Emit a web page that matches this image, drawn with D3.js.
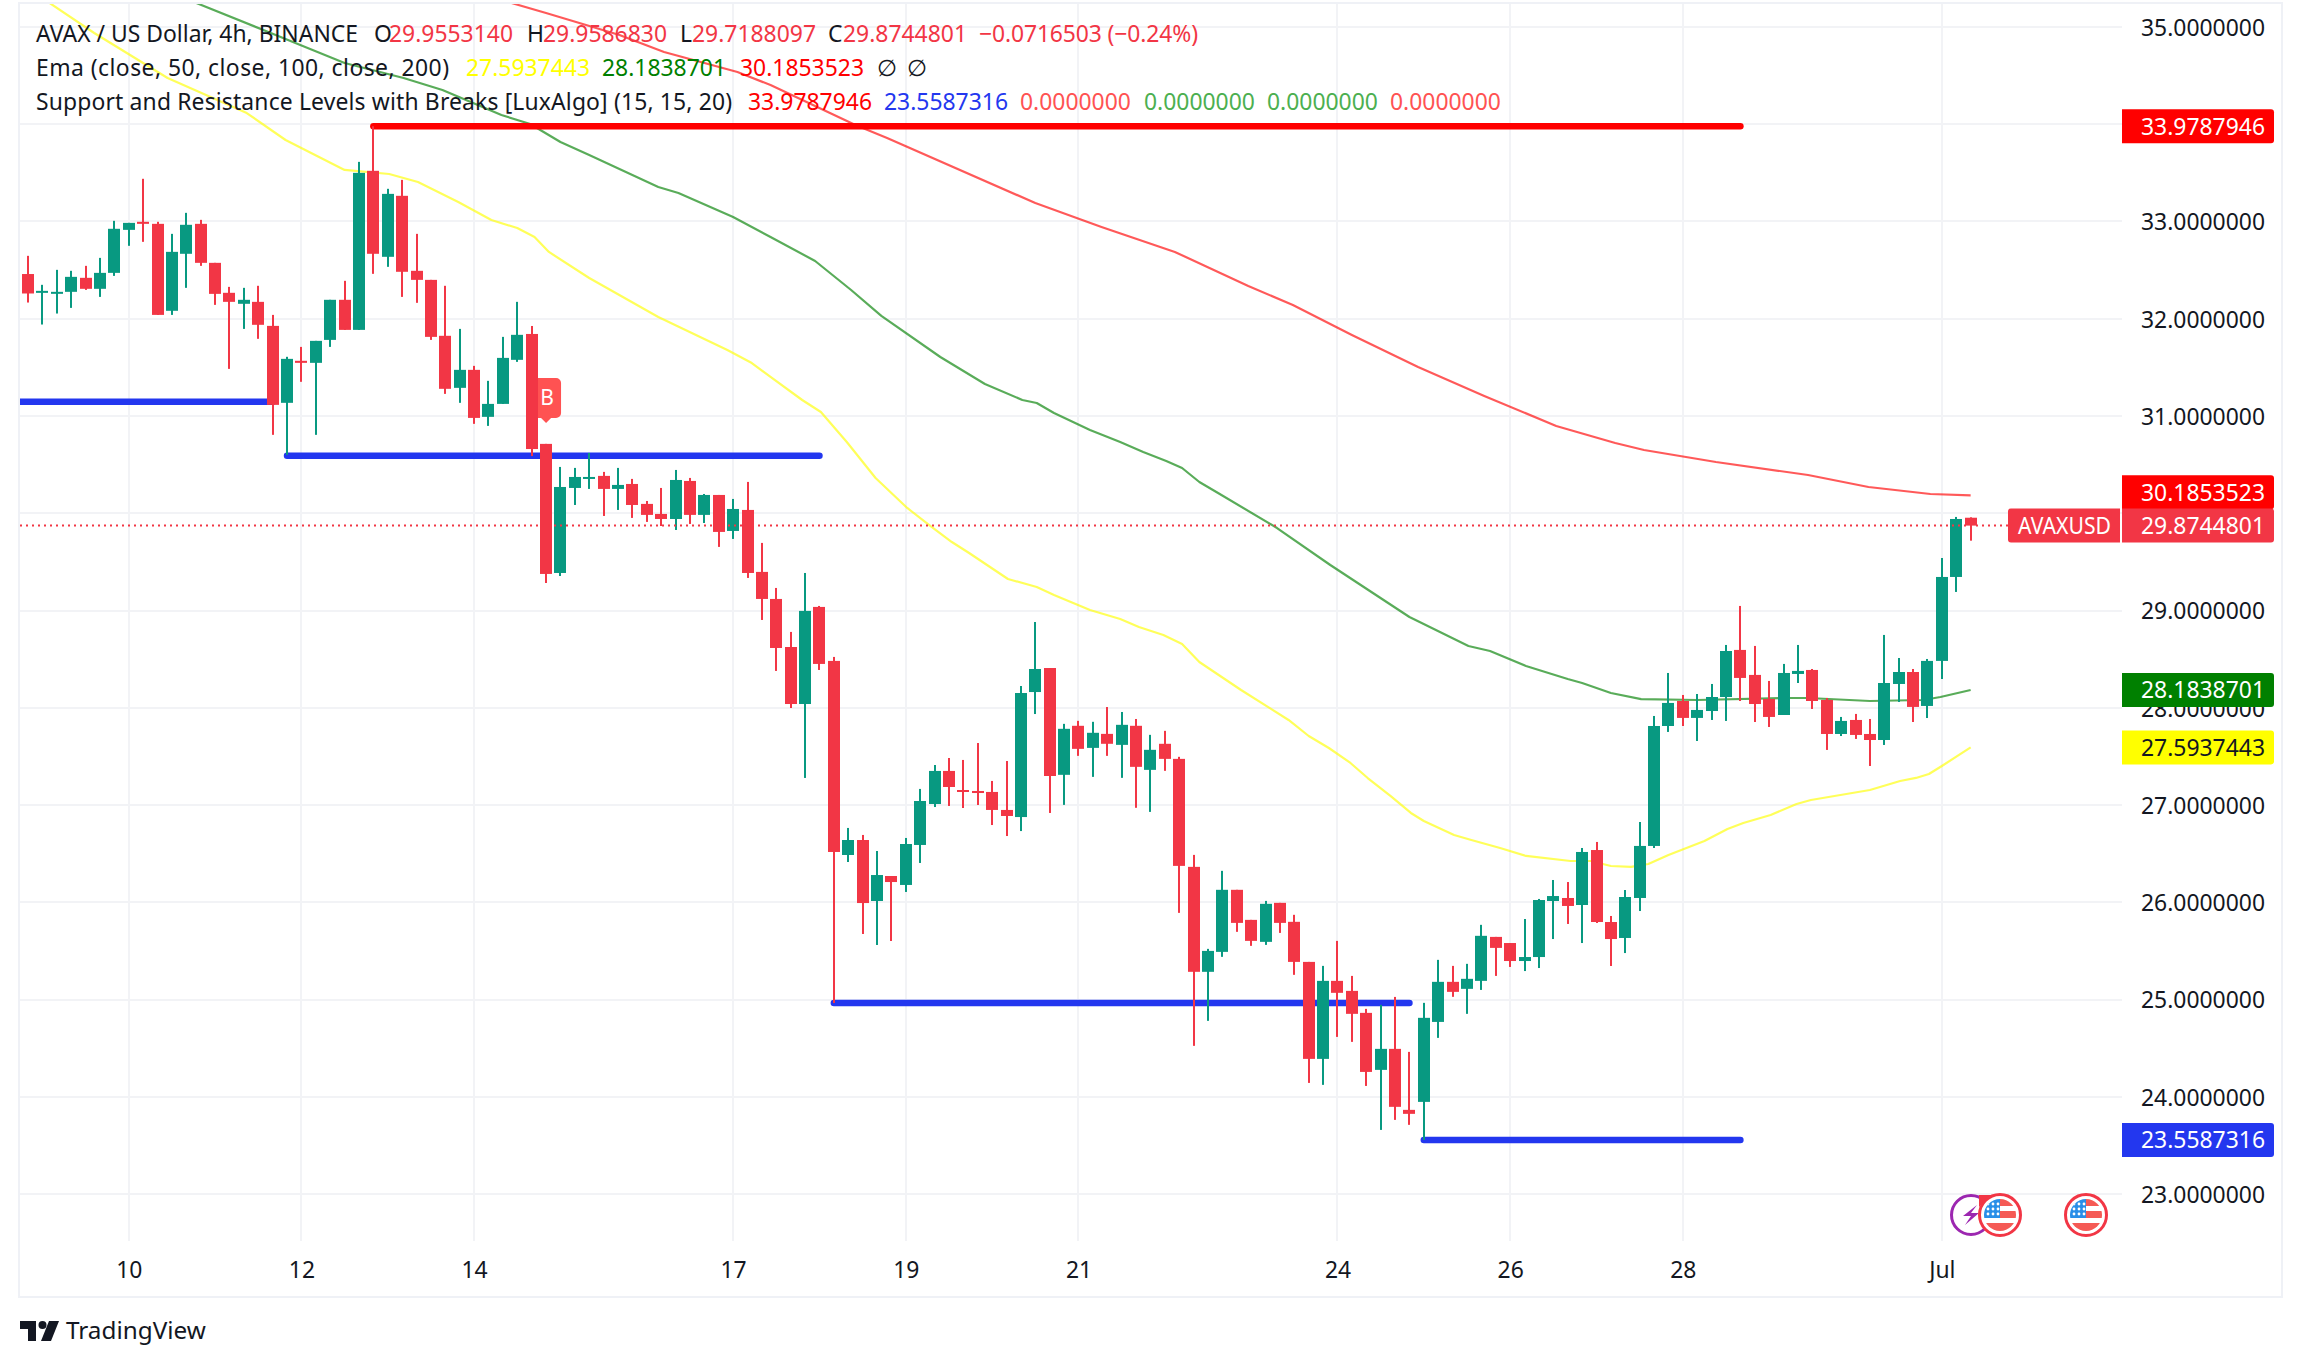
<!DOCTYPE html>
<html>
<head>
<meta charset="utf-8">
<title>AVAX / US Dollar</title>
<script src="https://cdn.jsdelivr.net/npm/d3@7"></script>
<style>
	html, body { margin: 0; padding: 0; background: #ffffff; }
	svg { display: block; }
	text { font-family: "Noto Sans", sans-serif; }
</style>
</head>
<body>
<div id="viz"></div>
<script>
// 4h candles, oldest first
var opens = [32.46,32.267,32.26,32.277,32.421,32.308,32.472,32.914,32.997,32.976,
	32.082,32.668,32.976,32.575,32.267,32.154,32.174,31.927,31.136,31.568,
	31.547,31.783,32.195,31.886,33.521,32.637,33.264,32.493,32.4,31.825,
	31.29,31.475,30.992,31.125,31.578,31.844,30.714,29.387,30.261,30.354,
	30.385,30.251,30.302,30.097,29.994,29.942,30.333,29.984,30.189,29.819,
	30.035,29.398,29.12,28.626,28.04,29.038,28.483,26.488,26.642,26.015,
	26.272,26.18,26.591,27.012,27.352,27.156,27.146,27.136,26.951,26.878,
	28.163,28.41,27.312,27.816,27.589,27.733,27.62,27.816,27.363,27.631,
	27.476,26.366,25.287,25.492,26.13,25.821,25.595,25.996,25.801,25.389,
	24.392,25.194,25.091,24.865,24.279,24.495,23.868,23.95,24.772,25.184,
	25.112,25.194,25.646,25.583,25.398,25.439,26.015,26.046,25.974,26.539,
	25.799,25.635,26.046,26.581,27.814,28.071,27.897,27.968,28.112,28.596,
	28.339,28.092,27.927,28.349,28.39,28.082,27.732,27.876,27.732,27.67,
	28.246,28.369,28.02,28.483,29.346,29.955];
var highs = [32.647,32.349,32.503,32.493,32.544,32.626,33.007,32.986,33.439,32.997,
	32.873,33.089,33.017,32.575,32.328,32.318,32.339,32.04,31.609,31.711,
	31.773,32.195,32.39,33.613,33.979,33.336,33.428,32.873,32.4,32.339,
	31.896,31.516,31.362,31.814,32.174,31.926,30.714,30.477,30.467,30.621,
	30.426,30.467,30.354,30.127,30.261,30.446,30.364,30.199,30.189,30.148,
	30.323,29.696,29.233,28.781,29.387,29.048,28.524,26.766,26.694,26.529,
	26.272,26.663,27.167,27.413,27.485,27.465,27.639,27.249,27.454,28.225,
	28.883,28.41,27.836,27.867,27.857,28.009,27.958,27.886,27.723,27.764,
	27.497,26.489,25.523,26.325,26.13,25.821,26.016,25.996,25.873,25.389,
	25.348,25.605,25.245,24.906,24.947,25.029,24.464,24.968,25.41,25.348,
	25.369,25.77,25.646,25.583,25.83,26.036,26.231,26.21,26.56,26.622,
	25.861,26.128,26.827,27.917,28.359,28.133,28.143,28.246,28.647,29.048,
	28.637,28.277,28.452,28.647,28.4,28.102,27.907,27.938,27.886,28.75,
	28.513,28.4,28.503,29.541,29.963,29.959];
var lows = [32.167,31.941,32.054,32.112,32.297,32.225,32.441,32.75,32.791,32.04,
	32.04,32.318,32.544,32.143,31.485,31.896,31.794,30.807,30.601,31.352,
	30.807,31.711,31.886,31.886,32.462,32.534,32.225,32.164,31.783,31.228,
	31.136,30.92,30.899,31.125,31.557,30.589,29.284,29.356,30.086,30.251,
	29.973,30.035,29.953,29.912,29.87,29.829,29.891,29.901,29.655,29.737,
	29.336,28.904,28.38,27.999,27.28,28.39,24.966,26.416,25.676,25.563,
	25.604,26.108,26.406,26.981,26.992,26.971,27.002,26.796,26.683,26.734,
	27.937,26.92,27.003,27.507,27.291,27.507,27.281,26.973,26.931,27.353,
	25.893,24.526,24.783,25.441,25.698,25.554,25.564,25.687,25.256,24.145,
	24.125,24.618,24.567,24.114,23.662,23.765,23.714,23.559,24.608,25.03,
	24.855,25.101,25.245,25.337,25.295,25.326,25.624,25.779,25.583,25.789,
	25.347,25.48,25.912,26.56,27.753,27.814,27.66,27.876,27.866,28.071,
	27.855,27.804,27.927,28.256,27.989,27.568,27.711,27.681,27.403,27.619,
	28.061,27.855,27.896,28.297,29.192,29.719];
var closes = [32.26,32.287,32.277,32.431,32.308,32.472,32.925,32.986,32.976,32.04,
	32.688,32.966,32.575,32.256,32.174,32.195,31.938,31.115,31.588,31.547,
	31.773,32.195,31.886,33.5,32.668,33.284,32.483,32.4,31.814,31.28,
	31.475,30.981,31.125,31.598,31.835,30.661,29.377,30.271,30.374,30.374,
	30.251,30.292,30.086,29.984,29.942,30.343,29.984,30.189,29.809,30.045,
	29.387,29.12,28.616,28.04,28.997,28.452,26.519,26.642,25.994,26.282,
	26.21,26.601,27.043,27.352,27.187,27.136,27.125,26.951,26.889,28.153,
	28.4,27.3,27.785,27.579,27.744,27.631,27.826,27.394,27.569,27.476,
	26.376,25.287,25.502,26.13,25.79,25.605,25.986,25.79,25.389,24.392,
	25.194,25.071,24.855,24.258,24.495,23.899,23.827,24.814,25.184,25.081,
	25.215,25.657,25.533,25.398,25.439,26.025,26.066,25.964,26.519,25.799,
	25.624,26.056,26.581,27.814,28.051,27.897,27.979,28.112,28.585,28.308,
	28.04,27.907,28.359,28.38,28.071,27.732,27.866,27.722,27.67,28.256,
	28.369,28.01,28.483,29.346,29.942,29.874];

// moving averages: bar position and value
var ema50Bars = [1.5,4.6,9.7,15.2,17.9,22,25.1,27.1,29.9,32.2,34,35.2,36.2,39,43.8,48.6,50.3,51.6,53.8,55.1,56.9,58.9,61.1,62.7,64.2,65.4,68.1,70.1,71.3,73.8,75.9,77.2,78.9,80.2,81.4,84.3,87.6,89,90.4,91.9,93.1,94.7,96.1,97,99.1,100.3,102.3,104.1,107.2,108.6,110,111.4,112.6,114,116.5,118.1,119.2,121.1,122.9,123.9,128,130.1,131.2,132.1,133,135];
var ema50Values = [35.246,34.938,34.475,34.115,33.838,33.53,33.488,33.406,33.2,33.015,32.933,32.841,32.687,32.419,32.018,31.679,31.545,31.402,31.165,31.042,30.733,30.363,30.055,29.87,29.705,29.592,29.325,29.243,29.161,29.006,28.914,28.832,28.749,28.657,28.472,28.184,27.876,27.711,27.588,27.434,27.279,27.094,26.92,26.838,26.693,26.642,26.56,26.478,26.426,26.426,26.375,26.365,26.395,26.488,26.632,26.755,26.817,26.899,27.012,27.053,27.156,27.249,27.28,27.321,27.403,27.5937];
var ema100Bars = [11.7,16.7,22,26.1,28.8,32.9,34.9,37,39,43.8,45.2,49,50.3,51.6,54.7,57.2,59.3,63.4,66.5,69.1,70.1,71.3,73.8,75.9,77.5,79.1,80.2,81.4,82.7,86.8,90.5,96,100.1,101.6,104.1,107,108,110,112.1,116,122.5,123.7,128,131.7,132.9,135];
var ema100Values = [35.246,34.948,34.629,34.475,34.352,34.095,34.002,33.817,33.684,33.355,33.293,33.046,32.944,32.841,32.594,32.296,32.029,31.607,31.33,31.165,31.134,31.032,30.857,30.733,30.631,30.538,30.466,30.322,30.209,29.849,29.469,28.934,28.636,28.585,28.431,28.297,28.256,28.153,28.091,28.081,28.102,28.102,28.071,28.081,28.112,28.1839];
var ema200Bars = [33.6,36,41.1,44.2,49.3,51.6,57.5,59.7,70,74.6,79.7,84.8,87.9,92,96.6,101.2,106.2,110.3,112.3,117.3,123.7,127.9,132.2,135];
var ema200Values = [35.246,35.143,34.917,34.742,34.537,34.403,33.992,33.858,33.19,32.943,32.687,32.337,32.142,31.833,31.504,31.206,30.898,30.723,30.651,30.528,30.394,30.271,30.199,30.1854];

// support and resistance segments
var levelStarts = [-1,18,56,97,24];
var levelEnds = [17,55,96,119,119];
var levelValues = [31.147,30.593,24.966,23.5587,33.9788];
var levelKinds = ["support","support","support","support","resistance"];

var priceTicks = [23,24,25,26,27,28,29,30,31,32,33,34,35];
// 30 and 34 sit behind the price tags
var priceTickLabels = [23,24,25,26,27,28,29,31,32,33,35];
var timeTickBars = [7,19,31,49,61,73,91,103,115,133];
var timeTickLabels = ["10","12","14","17","19","21","24","26","28","Jul"];

var lastPrice = 29.8744801;
var breakBar = 36;

var WIDTH = 2302;
var HEIGHT = 1367;
var PANE_LEFT = 20;
var PANE_RIGHT = 2122;
var PANE_TOP = 4;
var PANE_BOTTOM = 1241;
var FRAME_RIGHT = 2282;
var FRAME_BOTTOM = 1297;
var BODY_WIDTH = 12;
var FONT_SIZE = 22.9;

var UP = "#089981";
var DOWN = "#f23645";
var INK = "#131722";
var GRID = "#f2f3f6";
var FRAME = "#eff1f6";

var x = d3.scaleLinear().domain([0, 135]).range([28, 28 + 135 * 14.39]);
var y = d3.scaleLinear().domain([23, 35]).range([1194.3, 1194.3 - 12 * 97.28]);

var svg = d3.select("#viz").append("svg")
	.attr("width", WIDTH)
	.attr("height", HEIGHT)
	.attr("viewBox", "0 0 " + WIDTH + " " + HEIGHT);

svg.append("clipPath").attr("id", "pane").append("rect")
	.attr("x", PANE_LEFT)
	.attr("y", PANE_TOP)
	.attr("width", PANE_RIGHT - PANE_LEFT)
	.attr("height", PANE_BOTTOM - PANE_TOP);

// frame
svg.append("rect")
	.attr("x", PANE_LEFT - 1)
	.attr("y", PANE_TOP - 1)
	.attr("width", FRAME_RIGHT - PANE_LEFT + 1)
	.attr("height", FRAME_BOTTOM - PANE_TOP + 1)
	.attr("fill", "none")
	.attr("stroke", FRAME)
	.attr("stroke-width", 2);

// grid
svg.append("g").selectAll("line").data(priceTicks).enter().append("line")
	.attr("x1", PANE_LEFT)
	.attr("x2", PANE_RIGHT)
	.attr("y1", function(d) { return Math.round(y(d)); })
	.attr("y2", function(d) { return Math.round(y(d)); })
	.attr("stroke", GRID)
	.attr("stroke-width", 2);

svg.append("g").selectAll("line").data(timeTickBars).enter().append("line")
	.attr("x1", function(d) { return Math.round(x(d)); })
	.attr("x2", function(d) { return Math.round(x(d)); })
	.attr("y1", PANE_TOP)
	.attr("y2", PANE_BOTTOM)
	.attr("stroke", GRID)
	.attr("stroke-width", 2);

var pane = svg.append("g").attr("clip-path", "url(#pane)");

// moving averages
var drawEma = function(bars, values, color) {
	var line = d3.line()
		.x(function(d) { return x(d); })
		.y(function(d, i) { return y(values[i]); });
	pane.append("path")
		.attr("d", line(bars))
		.attr("fill", "none")
		.attr("stroke", color)
		.attr("stroke-opacity", 0.65)
		.attr("stroke-width", 2.2)
		.attr("stroke-linejoin", "round");
};
drawEma(ema50Bars, ema50Values, "#ffff00");
drawEma(ema100Bars, ema100Values, "#008000");
drawEma(ema200Bars, ema200Values, "#ff0000");

// levels
pane.selectAll(".level").data(levelValues).enter().append("line")
	.attr("class", "level")
	.attr("x1", function(d, i) { return x(levelStarts[i]); })
	.attr("x2", function(d, i) { return x(levelEnds[i]); })
	.attr("y1", function(d) { return y(d); })
	.attr("y2", function(d) { return y(d); })
	.attr("stroke", function(d, i) { return levelKinds[i] == "support" ? "#2337ef" : "#ff0000"; })
	.attr("stroke-width", 6.5)
	.attr("stroke-linecap", "round");

// break marker, the candles sit on top of it
var markerX = x(breakBar);
var markerTop = 378;
var marker = pane.append("g").attr("transform", "translate(" + markerX + "," + markerTop + ")");
marker.append("path")
	.attr("d", "M-15 5 a5 5 0 0 1 5 -5 h20 a5 5 0 0 1 5 5 v30 a5 5 0 0 1 -5 5 h-5 l-5 5 l-5 -5 h-5 a5 5 0 0 1 -5 -5 z")
	.attr("fill", "#ff5252");
marker.append("text")
	.attr("x", 1)
	.attr("y", 20)
	.attr("dy", "0.35em")
	.attr("text-anchor", "middle")
	.attr("font-size", 21)
	.attr("fill", "#ffffff")
	.text("B");

// candles
var candles = pane.append("g").selectAll("g").data(opens).enter().append("g")
	.attr("fill", function(d, i) { return closes[i] >= d ? UP : DOWN; });

candles.append("rect")
	.attr("x", function(d, i) { return Math.round(x(i)) - 1; })
	.attr("width", 2)
	.attr("y", function(d, i) { return y(highs[i]); })
	.attr("height", function(d, i) { return y(lows[i]) - y(highs[i]); });

candles.append("rect")
	.attr("x", function(d, i) { return Math.round(x(i)) - BODY_WIDTH / 2; })
	.attr("width", BODY_WIDTH)
	.attr("y", function(d, i) { return y(Math.max(d, closes[i])); })
	.attr("height", function(d, i) { return Math.max(2, y(Math.min(d, closes[i])) - y(Math.max(d, closes[i]))); });

// last price line
svg.append("line")
	.attr("x1", PANE_LEFT)
	.attr("x2", 2008)
	.attr("y1", y(lastPrice))
	.attr("y2", y(lastPrice))
	.attr("stroke", DOWN)
	.attr("stroke-width", 2)
	.attr("stroke-dasharray", "2 4");

// axes
var priceAxis = d3.axisRight(y)
	.tickValues(priceTickLabels)
	.tickFormat(d3.format(".7f"))
	.tickSize(0)
	.tickPadding(19);

var priceG = svg.append("g")
	.attr("transform", "translate(" + PANE_RIGHT + ",0)")
	.call(priceAxis);
priceG.select(".domain").remove();
priceG.selectAll("text")
	.attr("dy", "0.36em")
	.attr("font-size", FONT_SIZE)
	.attr("font-family", "\"Noto Sans\", sans-serif")
	.attr("fill", INK);

var timeAxis = d3.axisBottom(x)
	.tickValues(timeTickBars)
	.tickFormat(function(d, i) { return timeTickLabels[i]; })
	.tickSize(0)
	.tickPadding(21);

var timeG = svg.append("g")
	.attr("transform", "translate(0," + PANE_BOTTOM + ")")
	.call(timeAxis);
timeG.select(".domain").remove();
timeG.selectAll("text")
	.attr("font-size", FONT_SIZE)
	.attr("font-family", "\"Noto Sans\", sans-serif")
	.attr("fill", INK);

// price tags on the axis
var tagText = d3.format(".7f");
var drawTag = function(value, centerY, color, textColor) {
	svg.append("path")
		.attr("d", "M" + PANE_RIGHT + " " + (centerY - 17) + " h149 a3 3 0 0 1 3 3 v28 a3 3 0 0 1 -3 3 h-149 z")
		.attr("fill", color);
	svg.append("text")
		.attr("x", PANE_RIGHT + 19)
		.attr("y", centerY)
		.attr("dy", "0.36em")
		.attr("font-size", FONT_SIZE)
		.attr("fill", textColor)
		.text(tagText(value));
};
drawTag(33.9787946, y(33.9787946), "#ff0000", "#ffffff");
drawTag(30.1853523, y(30.1853523) - 3, "#ff0000", "#ffffff");
drawTag(28.1838701, y(28.1838701), "#008000", "#ffffff");
drawTag(27.5937443, y(27.5937443), "#ffff00", "#131722");
drawTag(23.5587316, y(23.5587316), "#2337ef", "#ffffff");
drawTag(lastPrice, y(lastPrice), DOWN, "#ffffff");

svg.append("path")
	.attr("d", "M2120 " + (y(lastPrice) - 17) + " v34 h-109 a3 3 0 0 1 -3 -3 v-28 a3 3 0 0 1 3 -3 z")
	.attr("fill", DOWN);
svg.append("text")
	.attr("x", 2018)
	.attr("y", y(lastPrice))
	.attr("dy", "0.36em")
	.attr("font-size", FONT_SIZE)
	.attr("textLength", 93)
	.attr("lengthAdjust", "spacingAndGlyphs")
	.attr("fill", "#ffffff")
	.text("AVAXUSD");

// legend rows, a fourth item is the width the text has to fill
var legend = function(rowY, parts) {
	parts.forEach(function(p) {
		var t = svg.append("text")
			.attr("x", p[1])
			.attr("y", rowY)
			.attr("dy", "0.36em")
			.attr("font-size", FONT_SIZE)
			.attr("fill", p[2])
			.text(p[0]);
		if (p[3])
			t.attr("textLength", p[3]);
	});
};
legend(34, [
	["AVAX / US Dollar, 4h, BINANCE", 36, INK, 322],
	["O", 374, INK], ["29.9553140", 389, DOWN],
	["H", 527, INK], ["29.9586830", 543, DOWN],
	["L", 680, INK], ["29.7188097", 692, DOWN],
	["C", 828, INK], ["29.8744801", 843, DOWN],
	["\u22120.0716503 (\u22120.24%)", 979, DOWN, 219]
]);
legend(68, [
	["Ema (close, 50, close, 100, close, 200)", 36, INK, 413],
	["27.5937443", 466, "#ffff00"],
	["28.1838701", 602, "#008000"],
	["30.1853523", 740, "#ff0000"],
	["\u2205", 877, INK],
	["\u2205", 907, INK]
]);
legend(102, [
	["Support and Resistance Levels with Breaks [LuxAlgo] (15, 15, 20)", 36, INK, 696],
	["33.9787946", 748, "#ff0000"],
	["23.5587316", 884, "#2337ef"],
	["0.0000000", 1020, "#ff5252"],
	["0.0000000", 1144, "#4caf50"],
	["0.0000000", 1267, "#4caf50"],
	["0.0000000", 1390, "#ff5252"]
]);

// event icons under the last candles
var eventY = 1215;
var drawFlag = function(cx, pointer) {
	var g = svg.append("g").attr("transform", "translate(" + cx + "," + eventY + ")");
	if (pointer) {
		g.append("path").attr("d", "M-21 -20 H-8 L-21 -8 Z").attr("fill", DOWN);
	}
	g.append("circle").attr("r", 20.5).attr("fill", "#ffffff").attr("stroke", DOWN).attr("stroke-width", 3);
	g.append("clipPath").attr("id", "flag" + cx).append("circle").attr("r", 16);
	var inner = g.append("g").attr("clip-path", "url(#flag" + cx + ")");
	inner.append("rect").attr("x", -16).attr("y", -16).attr("width", 32).attr("height", 32).attr("fill", "#ffffff");
	inner.append("rect").attr("x", 0).attr("y", -16).attr("width", 16).attr("height", 7).attr("fill", "#f55a55");
	inner.append("rect").attr("x", 0).attr("y", -4).attr("width", 16).attr("height", 7).attr("fill", "#f55a55");
	inner.append("rect").attr("x", -16).attr("y", 8).attr("width", 32).attr("height", 8).attr("fill", "#f55a55");
	inner.append("rect").attr("x", -16).attr("y", -16).attr("width", 16).attr("height", 19).attr("fill", "#2a8fe8");
	[-11, -6, -1].forEach(function(sy) {
		[-12, -7, -2].forEach(function(sx) {
			inner.append("circle").attr("cx", sx).attr("cy", sy).attr("r", 1.4).attr("fill", "#ffffff");
		});
	});
};
var bolt = svg.append("g").attr("transform", "translate(1971," + eventY + ")");
bolt.append("circle").attr("r", 19.5).attr("fill", "#ffffff").attr("stroke", "#9c27b0").attr("stroke-width", 3);
bolt.append("path").attr("d", "M6 -10 L-8 1 L0 1 L-6 10 L8 -2 L0 -2 Z").attr("fill", "#9c27b0");
drawFlag(2000, true);
drawFlag(2086, false);

// TradingView mark
svg.append("path").attr("d", "M20 1321 H36 V1341 H28 V1329 H20 Z").attr("fill", INK);
svg.append("circle").attr("cx", 42.5).attr("cy", 1325).attr("r", 4).attr("fill", INK);
svg.append("path").attr("d", "M49 1321 H59 L51 1341 H41 Z").attr("fill", INK);
svg.append("text")
	.attr("x", 66)
	.attr("y", 1339)
	.attr("font-size", 24.3)
	.attr("fill", INK)
	.text("TradingView");
</script>
</body>
</html>
